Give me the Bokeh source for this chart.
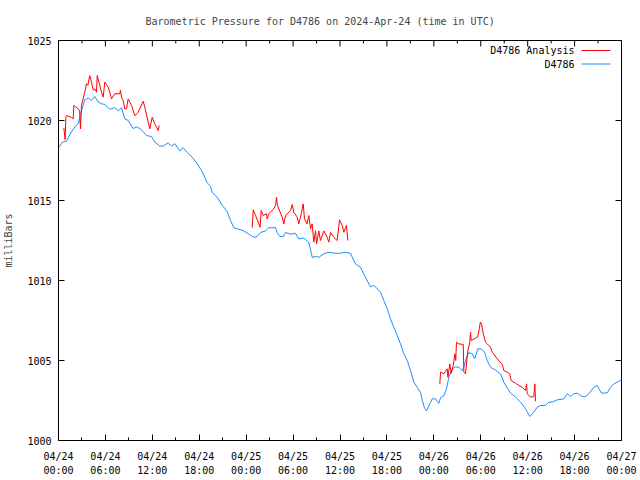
import math
from bokeh.plotting import figure
from bokeh.models import Range1d, LinearAxis, FixedTicker, ColumnDataSource
from bokeh.embed import file_html
from bokeh.resources import INLINE
from bokeh.core.properties import value

# ---------------- data ----------------
title_text = "Barometric Pressure for D4786 on 2024-Apr-24 (time in UTC)"
y_label = "milliBars"
legend_labels = ["D4786 Analysis", "D4786"]

tick_hours = [0, 6, 12, 18, 24, 30, 36, 42, 48, 54, 60, 66, 72]
minor_hours = [3, 9, 15, 21, 27, 33, 39, 45, 51, 57, 63, 69]
tick_dates = ["04/24", "04/24", "04/24", "04/24", "04/25", "04/25", "04/25",
              "04/25", "04/26", "04/26", "04/26", "04/26", "04/27"]
tick_times = ["00:00", "06:00", "12:00", "18:00", "00:00", "06:00", "12:00",
              "18:00", "00:00", "06:00", "12:00", "18:00", "00:00"]
y_ticks = [1000, 1005, 1010, 1015, 1020, 1025]

# station observations (hours since 2024-04-24 00:00 UTC, mbar)
obs_hours = [0.0, 0.5, 1.0, 1.66, 2.08, 2.52, 2.94, 3.36, 3.80, 4.22, 4.64, 5.08,
             5.50, 5.92, 6.56, 7.20, 7.64, 8.06, 8.48, 8.91, 9.55, 9.98, 10.40,
             10.83, 11.25, 11.89, 12.32, 12.96, 13.39, 14.03, 14.45, 14.87, 15.51,
             15.95, 16.46, 17.10, 17.74, 18.38, 19.02, 19.44, 19.66, 20.30, 20.94,
             21.58, 22.00, 22.42, 23.06, 23.70, 24.34, 24.98, 25.41, 25.83, 26.47,
             26.89, 27.33, 27.75, 27.97, 28.30, 28.74, 29.03, 29.67, 30.31, 30.73,
             31.37, 32.01, 32.45, 32.87, 33.29, 33.93, 34.57, 35.43, 36.06, 36.70,
             37.33, 37.98, 38.62, 39.26, 39.90, 40.32, 40.76, 41.18, 41.60, 42.04,
             42.46, 42.88, 43.32, 43.74, 44.16, 44.60, 45.02, 45.44, 45.87, 46.30,
             46.52, 46.81, 47.07, 47.49, 47.79, 48.22, 48.64, 48.86, 49.28, 49.62,
             49.92, 50.35, 50.77, 51.20, 51.63, 51.84, 52.18, 52.48, 52.91, 53.21,
             53.63, 54.06, 54.48, 54.83, 55.25, 55.89, 56.53, 56.95, 57.39, 57.81,
             58.45, 59.09, 59.73, 60.28, 60.79, 61.22, 61.64, 62.28, 62.71, 63.14,
             63.78, 64.63, 65.06, 65.48, 65.90, 66.34, 66.98, 67.40, 67.82, 68.47,
             68.90, 69.19, 69.45, 70.18, 70.60, 71.02, 71.45, 72.0]
obs_mbar = [1018.3, 1018.65, 1018.7, 1019.3, 1019.6, 1019.8, 1020.6, 1021.3, 1021.4,
            1021.25, 1021.5, 1021.15, 1021.05, 1021.0, 1020.7, 1020.8, 1020.6, 1020.8,
            1020.1, 1020.0, 1019.5, 1019.6, 1019.5, 1019.3, 1019.06, 1019.0, 1018.65,
            1018.4, 1018.4, 1018.6, 1018.4, 1018.55, 1018.1, 1018.3, 1018.0, 1017.7,
            1017.3, 1016.8, 1016.1, 1015.9, 1015.5, 1015.2, 1014.7, 1014.3, 1013.75,
            1013.3, 1013.2, 1013.1, 1012.9, 1012.7, 1012.75, 1013.0, 1013.1, 1013.3,
            1013.3, 1013.3, 1013.0, 1012.75, 1012.75, 1013.0, 1012.9, 1012.95, 1012.6,
            1012.65, 1012.4, 1011.45, 1011.5, 1011.45, 1011.67, 1011.77, 1011.7, 1011.7,
            1011.77, 1011.7, 1011.04, 1010.83, 1010.2, 1009.6, 1009.7, 1009.48, 1009.27,
            1008.75, 1008.23, 1007.6, 1007.08, 1006.56, 1006.04, 1005.42, 1005.0,
            1004.37, 1003.65, 1003.33, 1003.0, 1002.5, 1002.04, 1001.85, 1002.3, 1002.6,
            1002.6, 1002.33, 1002.67, 1002.8, 1003.23, 1003.96, 1004.48, 1004.6, 1004.58,
            1004.37, 1004.58, 1005.2, 1005.5, 1005.42, 1005.1, 1005.73, 1005.73, 1005.52,
            1005.0, 1004.58, 1004.4, 1004.17, 1003.65, 1003.29, 1002.96, 1002.71, 1002.4,
            1001.98, 1001.5, 1001.77, 1002.08, 1002.19, 1002.19, 1002.4, 1002.4, 1002.54,
            1002.6, 1002.92, 1002.75, 1002.92, 1002.96, 1002.75, 1002.75, 1002.92,
            1003.33, 1003.44, 1003.17, 1002.96, 1002.98, 1003.33, 1003.54, 1003.65, 1003.8]

# analysis segments
ana1_hours = [0.68, 0.85, 0.94, 1.02, 1.66, 1.88, 1.96, 2.52, 2.70, 2.81, 2.94, 3.36,
              3.58, 3.75, 4.00, 4.22, 4.44, 4.64, 4.86, 4.95, 5.28, 5.50, 5.72, 5.92,
              6.36, 6.56, 6.78, 7.20, 7.84, 7.93, 8.06, 8.27, 8.48, 8.70, 8.91, 9.34,
              9.76, 10.19, 10.83, 11.04, 11.47, 11.68, 11.98, 12.32, 12.75, 12.88]
ana1_mbar = [1019.54, 1018.8, 1020.2, 1020.3, 1020.2, 1020.1, 1020.94, 1020.73, 1020.6,
             1019.48, 1020.94, 1021.77, 1022.3, 1022.2, 1022.8, 1022.4, 1021.9, 1021.98,
             1021.77, 1022.8, 1022.2, 1021.77, 1021.46, 1022.4, 1022.08, 1021.77,
             1021.35, 1021.67, 1021.67, 1021.88, 1021.46, 1021.25, 1020.73, 1020.73,
             1021.35, 1020.94, 1020.3, 1020.52, 1021.2, 1020.83, 1019.9, 1019.48,
             1020.2, 1019.79, 1019.375, 1019.69]
ana2_hours = [24.77, 24.90, 25.20, 25.62, 25.78, 25.92, 26.18, 26.60, 26.69, 26.90,
              27.54, 27.75, 27.88, 28.00, 28.60, 28.82, 29.03, 29.67, 29.89, 30.09,
              30.53, 30.73, 31.04, 31.30, 31.46, 31.80, 32.01, 32.23, 32.44, 32.65,
              32.87, 33.00, 33.29, 33.50, 33.93, 34.36, 34.57, 34.79, 35.21, 35.64,
              35.94, 36.28, 36.49, 36.83, 37.00]
ana2_mbar = [1013.3, 1014.42, 1014.06, 1013.54, 1013.33, 1014.37, 1014.06, 1014.17,
             1013.85, 1014.17, 1014.48, 1014.69, 1015.2, 1014.69, 1013.96, 1013.54,
             1014.06, 1014.37, 1014.75, 1014.27, 1013.96, 1013.54, 1014.17, 1014.79,
             1013.85, 1013.54, 1014.06, 1013.23, 1013.54, 1012.4, 1013.1, 1012.29,
             1013.1, 1012.5, 1013.1, 1012.7, 1012.4, 1013.0, 1012.7, 1012.5, 1013.79,
             1013.44, 1013.02, 1013.44, 1012.5]
ana3_hours = [48.77, 48.86, 49.28, 49.71, 49.80, 50.04, 50.22, 50.48, 50.69, 50.80,
              50.90, 51.20, 51.76, 51.84, 52.05, 52.35, 52.60, 52.69, 52.78, 53.17,
              53.60, 53.82, 53.95, 54.10, 54.32, 54.61, 54.83, 55.25, 55.47, 56.11,
              56.75, 56.85, 56.95, 57.39, 57.70, 57.88, 58.45, 58.87, 59.30, 59.73,
              59.86, 59.94, 60.37, 60.79, 60.92, 61.00]
ana3_mbar = [1003.54, 1004.27, 1004.17, 1004.48, 1003.96, 1004.79, 1004.2, 1004.69,
             1005.42, 1005.0, 1006.14, 1006.04, 1006.0, 1004.27, 1004.17, 1005.62,
             1006.14, 1006.77, 1006.25, 1006.35, 1006.46, 1006.98, 1007.4, 1007.29,
             1006.67, 1006.14, 1006.04, 1005.83, 1005.52, 1005.1, 1004.75, 1004.58,
             1004.37, 1004.27, 1004.17, 1003.75, 1003.58, 1003.44, 1003.33, 1003.125,
             1003.54, 1002.92, 1002.71, 1002.75, 1003.54, 1002.46]

# ---------------- style ----------------
FONT = "DejaVu Sans Mono"
FS = "10px"
RED = "#ff0000"
BLUE = "#1e8cff"
FRAME_W, FRAME_H = 563, 400

p = figure(width=640, height=480, x_range=Range1d(0, 72), y_range=Range1d(1000, 1025),
           output_backend="svg", toolbar_location=None,
           x_axis_location=None, y_axis_location=None,
           min_border_left=58, min_border_right=19, min_border_top=40, min_border_bottom=40,
           title=title_text)
p.grid.visible = False
p.outline_line_color = "black"
p.outline_line_width = 1
p.background_fill_color = "white"
p.border_fill_color = "white"

p.title.text_font = FONT
p.title.text_font_size = FS
p.title.text_font_style = "normal"
p.title.align = "left"
p.title.offset = 87
p.title.standoff = 27

# pixel ranges spanning the plot frame (for mirror ticks and the key)
p.extra_x_ranges = {"px": Range1d(0, FRAME_W)}
p.extra_y_ranges = {"px": Range1d(0, FRAME_H)}

xt = FixedTicker(ticks=tick_hours, minor_ticks=minor_hours)
yt = FixedTicker(ticks=y_ticks, minor_ticks=[])


def style_axis(ax, tick_in=6, minor_in=3):
    ax.axis_line_color = "black"
    ax.major_tick_line_color = "black"
    ax.minor_tick_line_color = "black"
    ax.major_tick_in = tick_in
    ax.major_tick_out = 0
    ax.minor_tick_in = minor_in
    ax.minor_tick_out = 0
    ax.major_label_text_font = FONT
    ax.major_label_text_font_size = FS
    ax.major_label_text_color = "black"


bx1 = LinearAxis(ticker=xt,
                 major_label_overrides={h: d for h, d in zip(tick_hours, tick_dates)})
style_axis(bx1)
bx1.major_label_standoff = 10
p.add_layout(bx1, "below")

bx2 = LinearAxis(ticker=xt,
                 major_label_overrides={h: t for h, t in zip(tick_hours, tick_times)})
style_axis(bx2)
bx2.axis_line_color = None
bx2.major_tick_line_color = None
bx2.minor_tick_line_color = None
bx2.major_tick_in = 0
bx2.minor_tick_in = 0
bx2.major_label_standoff = 0
p.add_layout(bx2, "below")

ly = LinearAxis(ticker=yt, axis_label=y_label)
style_axis(ly, minor_in=0)
ly.major_label_standoff = 7
ly.axis_label_text_font = FONT
ly.axis_label_text_font_size = FS
ly.axis_label_text_font_style = "normal"
ly.axis_label_standoff = 10
p.add_layout(ly, "left")

# mirror ticks on top and right border
p.segment(x0=tick_hours, y0=[FRAME_H] * len(tick_hours), x1=tick_hours,
          y1=[FRAME_H - 6] * len(tick_hours), line_color="black", line_width=1,
          y_range_name="px")
p.segment(x0=minor_hours, y0=[FRAME_H] * len(minor_hours), x1=minor_hours,
          y1=[FRAME_H - 3] * len(minor_hours), line_color="black", line_width=1,
          y_range_name="px")
p.segment(x0=[FRAME_W] * len(y_ticks), y0=y_ticks, x1=[FRAME_W - 6] * len(y_ticks),
          y1=y_ticks, line_color="black", line_width=1, x_range_name="px")

# ---------------- data lines ----------------
obs_src = ColumnDataSource(dict(x=obs_hours, y=obs_mbar))
p.line("x", "y", source=obs_src, line_color=BLUE, line_width=1)

ana_x = ana1_hours + [math.nan] + ana2_hours + [math.nan] + ana3_hours
ana_y = ana1_mbar + [math.nan] + ana2_mbar + [math.nan] + ana3_mbar
ana_src = ColumnDataSource(dict(x=ana_x, y=ana_y))
p.line("x", "y", source=ana_src, line_color=RED, line_width=1)

# ---------------- key (frame pixel coordinates) ----------------
leg_rows = [390, 376.5]
p.line([523, 552], [leg_rows[0]] * 2, line_color=RED, line_width=1,
       x_range_name="px", y_range_name="px")
p.line([523, 552], [leg_rows[1]] * 2, line_color=BLUE, line_width=1,
       x_range_name="px", y_range_name="px")
p.text(x=[516, 516], y=leg_rows, text=legend_labels, text_align="right",
       text_baseline="middle", text_font=value(FONT), text_font_size=FS,
       text_color="black", x_range_name="px", y_range_name="px")

open("out.html", "w").write(file_html(p, INLINE))
